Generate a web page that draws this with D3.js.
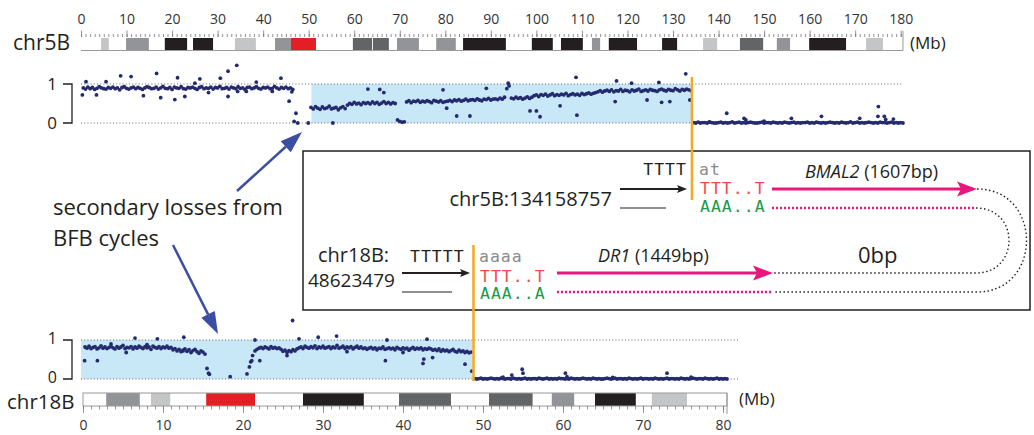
<!DOCTYPE html>
<html>
<head>
<meta charset="utf-8">
<script src="https://cdn.jsdelivr.net/npm/d3@7"></script>
<style>
  body { margin: 0; background: #fff; }
  svg { display: block; font-family: "Open Sans", sans-serif; }
</style>
</head>
<body>
<div id="chart"></div>
<script>
// ---- data (Mb positions, B-allele style values 0..1) ----

// chr5B ideogram bands: [start, end, stain]
const chr5BBands = [
  [4.4, 6.1, 'gpos25'], [9.9, 14.9, 'gpos50'], [18.4, 23.3, 'gpos100'], [24.6, 29.0, 'gpos100'],
  [33.8, 38.4, 'gpos25'], [42.6, 46.1, 'gpos50'], [46.1, 51.6, 'acen'], [59.7, 63.9, 'gpos75'],
  [64.1, 67.6, 'gpos75'], [69.4, 74.2, 'gpos50'], [78.0, 82.3, 'gpos50'], [83.9, 93.3, 'gpos100'],
  [99.0, 103.6, 'gpos100'], [105.4, 110.2, 'gpos100'], [112.2, 114.0, 'gpos50'], [115.9, 122.1, 'gpos100'],
  [127.6, 130.9, 'gpos100'], [136.6, 139.7, 'gpos25'], [144.7, 149.8, 'gpos75'], [152.8, 155.7, 'gpos50'],
  [159.9, 168.0, 'gpos100'], [172.4, 176.1, 'gpos25']
];
const chr5BLength = 180.5;
const chr5BTicks = d3.range(0, 181, 10);

// chr18B ideogram bands
const chr18BBands = [
  [2.9, 7.1, 'gpos50'], [8.5, 10.9, 'gpos25'], [15.4, 21.5, 'acen'], [27.5, 35.1, 'gpos100'],
  [39.5, 46.0, 'gpos75'], [50.75, 56.2, 'gpos75'], [58.6, 61.4, 'gpos50'], [64.0, 69.1, 'gpos100'],
  [71.1, 75.5, 'gpos25']
];
const chr18BLength = 80.5;
const chr18BTicks = d3.range(0, 81, 10);

// breakpoints
const chr5BBreak = 134.158757;
const chr18BBreak = 48.623479;
const chr5BShaded = [50.6, chr5BBreak];
const chr18BShaded = [0, chr18BBreak];

// chr5B values (x100), 0.5 Mb apart
const chr5BLeft = [ // from 0.5 Mb
  90,87,92,88,91,86,89,93,90,88, 87,91,89,92,88,90,85,91,93,89, 87,90,92,88,91,89,86,90,93,91,
  88,89,92,87,90,94,89,88,91,86, 92,90,89,93,88,87,91,90,92,89, 86,91,93,88,90,89,92,87,91,90,
  94,88,89,91,87,92,90,88,93,89, 90,86,91,92,88,90,93,89,87,91, 90,92,88,89,94,90,87,91,89,92,
  88,90,86
];
const chr5BMid = [ // from 50.5 Mb
  40,36,42,38,35,41,37,39,43,36,38,40,34,39,42,37,
  46,50,48,53,49,51,47,52,50,
  52,49,54,50,53,48,51,55,50,53,49,52,50,
  8,4,2,3,
  54,57,52,56,55,58,53,56,54,57,55,52,58,56,54,57,53,55,
  56,58,55,59,57,60,56,58,61,57,59,60,58,62,59,57,61,60,63,59,61,62,60,64,61,66,
  88,95,64,62,66,63,65,61,64,67,63,66,
  70,72,68,73,71,74,69,72,75,70,73,71,74,72,76,70,73,75,72,74,71,76,73,75,77,74,76,78,
  80,83,79,82,84,81,85,80,83,82,86,81,84,83,80,85,82,84,87,81,83,85,82,86,84,83,81,85,87,84,
  82,86,84,83,88,85,82,86,84,87,85,83
];
const chr5BRight = [ // from 134.5 Mb
  1,0,2,0,1,1,0,2,1,0, 0,1,2,0,1,0,1,3,0,1, 2,0,1,0,1,2,1,0,0,1, 2,0,1,1,0,2,1,0,1,0,
  2,1,0,1,2,0,1,0,1,1, 2,0,1,0,2,1,0,1,0,1, 2,1,0,1,0,2,1,0,1,3, 0,1,2,0,1,0,1,2,1,0,
  1,0,2,1,1,0,1,2,0,1, 0,1,0
];
const chr5BOutliers = [
  [0.3,0.72],[1.1,1.06],[3.4,0.72],[5.5,1.06],[8.7,1.21],[11,1.19],[13.7,0.7],[16.6,1.27],
  [17.5,0.65],[20.6,0.6],[21.2,1.16],[22.8,0.68],[25,1.02],[26.1,1.13],[28,0.78],[30.6,1.15],
  [32.3,1.33],[32.3,0.68],[34.2,1.48],[34.4,0.81],[36.3,0.81],[38.5,1.05],[42,0.81],[43.9,1.15],
  [45.7,0.56],[46.3,0.8],[46.8,0.04],[47.2,0.25],[47.6,0.0],[49.9,0.0],
  [55.3,0.0],[63,0.87],[65.6,0.86],[66.5,0.78],[79.5,0.85],[80.3,0.38],[82.5,0.18],[85.4,0.18],
  [89,0.89],[93.8,1.02],[98.6,0.31],[100,0.31],[100.8,0.16],[105.2,0.44],[108.9,0.2],[108.7,1.17],
  [117.3,0.55],[117.6,1.08],[120.9,1.02],[124.3,0.59],[126.9,1.04],[127.5,0.53],[129.3,0.55],
  [132.8,1.26],[133.7,0.59],
  [138,0.03],[141.8,0.25],[145.6,0.12],[146,0.08],[150,0.05],[156,0.12],[162.6,0.17],[171,0.12],
  [175.1,0.42],[175,0.17],[176.4,0.17],[176.7,0.09],[178.4,0.1]
];

// chr18B values (x100), 0.25 Mb apart
const chr18BLeft = [ // from 0.25 Mb
  82,79,84,78,81,83,77,80,85,79, 82,78,81,84,80,77,83,79,82,86, 78,81,80,83,77,82,79,84,81,78,
  83,80,82,76,84,81,79,83,78,82, 80,84,79,81,
  75,78,72,76,70,74,77,71,75,68, 73,76,70,66,72,69,64
];
const chr18BMid = [ // from 21.5 Mb
  72,76,79,81,78,82,80,77,83,79,81,78,80,76,
  71,74,68,73,70,75,72,77,
  80,82,78,84,81,79,83,80,85,78, 82,80,84,79,81,83,78,82,80,86, 79,81,84,78,82,80,83,77,81,84, 79,82,
  78,80,76,79,81,77,80,75,79,78, 82,76,78,80,77,79,75,81,78,76, 80,77,79,74,78,81,76,79,77,80, 75,78,76,79,77,74,
  76,73,77,71,75,72,74,70,73,76, 71,69,74,70,72,68,71,67,69
];
const chr18BRight = [ // from 49 Mb
  1,0,1,2,0,1,0,1,2,1, 0,1,0,2,1,0,1,1,0,2, 1,0,1,0,1,2,0,1,0,1, 1,0,2,1,0,1,2,0,1,0,
  1,0,2,1,1,0,1,0,2,1, 0,1,0,1,2,1,0,1,0,2, 1,0,1,0,0,1,2,1,0,1, 2,0,1,1,0,1,0,2,1,0,
  1,0,1,2,0,1,1,0,1,0, 2,1,0,1,0,1,2,0,1,1, 0,1,0,2,1,0,1,0,1,2, 1,0,1,1,0,2,1,0,1,0,
  1,2,0,1,0,1,0
];
const chr18BOutliers = [
  [0.2,0.47],[1.8,0.47],[3.5,0.9],[5.4,0.68],[6.5,1.05],[8,0.88],[9.3,1.03],[12.5,0.72],[12.6,1.07],
  [15.5,0.27],[15.7,0.15],[15.8,0.12],[18.4,0.06],[20.5,0.13],[20.8,0.31],[20.96,0.44],[21.1,0.47],
  [21.2,0.6],[21.5,1.0],[22.1,0.47],
  [25.5,0.6],[26.2,1.5],[27,1.03],[29.4,1.07],[31.7,1.1],[33,0.7],[37.8,0.47],[38,1.0],[40,0.68],
  [42.5,0.4],[42.6,0.51],[43,1.02],[43.7,0.55],[47.75,0.38],[48.6,0.2],
  [52.5,0.05],[53.6,0.1],[54.9,0.25],[55.0,0.15],[60.3,0.15],[60.5,0.06],[66.2,0.04],[73,0.15],[76,0.05]
];

// ---- styles ----
const stainColor = {
  gpos25: '#c4c5c7', gpos50: '#929497', gpos75: '#636466', gpos100: '#231f20', acen: '#e31e25'
};
const dotColor = '#232a6e';
const shadeColor = '#c8e8f8';
const orange = '#f6a823';
const magenta = '#e8177d';
const blueArrow = '#3c4ea2';
const mono = '"DejaVu Sans Mono", monospace';

const W = 1034, H = 435;
const svg = d3.select('#chart').append('svg').attr('width', W).attr('height', H);

// scales
const x5 = d3.scaleLinear().domain([0, 180]).range([81, 900.7]);
const y5 = d3.scaleLinear().domain([0, 1]).range([123, 84]);
const x18 = d3.scaleLinear().domain([0, 80]).range([83, 723]);
const y18 = d3.scaleLinear().domain([0, 1]).range([379, 340]);

function band(start, step, vals) {
  return vals.map((v, i) => [start + i * step, v / 100]);
}

// ---- chr5B ideogram ----
const ideo5 = svg.append('g');
ideo5.selectAll('rect').data(chr5BBands).enter().append('rect')
  .attr('x', d => x5(d[0])).attr('width', d => x5(d[1]) - x5(d[0]))
  .attr('y', 38).attr('height', 12)
  .attr('fill', d => stainColor[d[2]]);
ideo5.append('line').attr('x1', x5(0)).attr('x2', x5(chr5BLength)).attr('y1', 50.5).attr('y2', 50.5)
  .attr('stroke', '#999').attr('stroke-width', 1);
ideo5.append('line').attr('x1', x5(chr5BLength)).attr('x2', x5(chr5BLength)).attr('y1', 31).attr('y2', 50.5)
  .attr('stroke', '#999').attr('stroke-width', 1);

const minor5 = ideo5.append('g').attr('transform', 'translate(0,37)').attr('color', '#777')
  .call(d3.axisTop(x5).tickValues(d3.range(0, 181, 1)).tickSize(3).tickFormat(''));
const major5 = ideo5.append('g').attr('transform', 'translate(0,37)').attr('color', '#777')
  .call(d3.axisTop(x5).tickValues(chr5BTicks).tickSize(6.5).tickPadding(7));
[minor5, major5].forEach(a => { a.select('.domain').remove(); a.selectAll('line').attr('stroke-width', 0.8); });
major5.selectAll('text').attr('font-size', 14).attr('fill', '#333').attr('font-family', '"Open Sans", sans-serif');

svg.append('text').attr('x', 13).attr('y', 50).attr('font-size', 21).attr('fill', '#231f20').text('chr5B');
svg.append('text').attr('x', 910).attr('y', 49).attr('font-size', 17).attr('fill', '#231f20').text('(Mb)');

// ---- chr5B scatter ----
const p5 = svg.append('g');
p5.append('rect').attr('x', x5(chr5BShaded[0])).attr('width', x5(chr5BShaded[1]) - x5(chr5BShaded[0]))
  .attr('y', y5(1)).attr('height', y5(0) - y5(1)).attr('fill', shadeColor);
[0, 1].forEach(v => p5.append('line')
  .attr('x1', x5(0)).attr('x2', x5(chr5BLength)).attr('y1', y5(v)).attr('y2', y5(v))
  .attr('stroke', '#666').attr('stroke-width', 1.1).attr('stroke-dasharray', '1,2.2'));
const pts5 = [].concat(band(0.5, 0.5, chr5BLeft), band(50.5, 0.5, chr5BMid), band(134.5, 0.5, chr5BRight), chr5BOutliers);
p5.selectAll('circle').data(pts5).enter().append('circle')
  .attr('cx', d => x5(d[0])).attr('cy', d => y5(d[1])).attr('r', 1.9).attr('fill', dotColor);

// y bracket
function bracket(yScale, x, fs, dy) {
  svg.append('path').attr('d', `M${x - 9},${yScale(1)}H${x}V${yScale(0)}H${x - 9}`)
    .attr('fill', 'none').attr('stroke', '#231f20').attr('stroke-width', 1.3);
  [1, 0].forEach(v => svg.append('text').attr('x', x - 15).attr('y', yScale(v) + dy)
    .attr('text-anchor', 'end').attr('font-size', fs).attr('fill', '#231f20').text(v));
}
bracket(y5, 72, 17, 6);

// ---- chr18B scatter ----
const p18 = svg.append('g');
p18.append('rect').attr('x', 81).attr('width', x18(chr18BShaded[1]) - 81)
  .attr('y', y18(1)).attr('height', y18(0) - y18(1)).attr('fill', shadeColor);
[0, 1].forEach(v => p18.append('line')
  .attr('x1', 81).attr('x2', 738).attr('y1', y18(v)).attr('y2', y18(v))
  .attr('stroke', '#666').attr('stroke-width', 1.1).attr('stroke-dasharray', '1,2.2'));
const pts18 = [].concat(band(0.25, 0.25, chr18BLeft), band(21.5, 0.25, chr18BMid), band(49, 0.25, chr18BRight), chr18BOutliers);
p18.selectAll('circle').data(pts18).enter().append('circle')
  .attr('cx', d => x18(d[0])).attr('cy', d => y18(d[1])).attr('r', 1.9).attr('fill', dotColor);
bracket(y18, 72, 16, 3.5);

// ---- chr18B ideogram ----
const ideo18 = svg.append('g');
ideo18.selectAll('rect').data(chr18BBands).enter().append('rect')
  .attr('x', d => x18(d[0])).attr('width', d => x18(d[1]) - x18(d[0]))
  .attr('y', 393).attr('height', 13)
  .attr('fill', d => stainColor[d[2]]);
ideo18.append('rect').attr('x', x18(0)).attr('width', x18(chr18BLength) - x18(0))
  .attr('y', 393).attr('height', 13).attr('fill', 'none').attr('stroke', '#999').attr('stroke-width', 1);
const minor18 = ideo18.append('g').attr('transform', 'translate(0,406)').attr('color', '#777')
  .call(d3.axisBottom(x18).tickValues(d3.range(0, 81, 1)).tickSize(3.5).tickFormat(''));
const major18 = ideo18.append('g').attr('transform', 'translate(0,406)').attr('color', '#777')
  .call(d3.axisBottom(x18).tickValues(chr18BTicks).tickSize(7).tickPadding(7));
[minor18, major18].forEach(a => { a.select('.domain').remove(); a.selectAll('line').attr('stroke-width', 0.8); });
major18.selectAll('text').attr('font-size', 14).attr('fill', '#333').attr('font-family', '"Open Sans", sans-serif');
ideo18.append('line').attr('x1', x18(chr18BLength)).attr('x2', x18(chr18BLength)).attr('y1', 393).attr('y2', 414)
  .attr('stroke', '#999').attr('stroke-width', 1);

svg.append('text').attr('x', 7).attr('y', 409).attr('font-size', 20.5).attr('fill', '#231f20').text('chr18B');
svg.append('text').attr('x', 739).attr('y', 405).attr('font-size', 17).attr('fill', '#231f20').text('(Mb)');

// ---- junction box ----
const box = svg.append('g');
box.append('rect').attr('x', 303).attr('y', 151).attr('width', 727).attr('height', 159)
  .attr('fill', 'none').attr('stroke', '#231f20').attr('stroke-width', 1.5);

function arrowHead(g, x, y, len, wid, color) {
  g.append('path')
    .attr('d', `M${x},${y}L${x - len},${y - wid / 2}L${x - len * 0.8},${y}L${x - len},${y + wid / 2}Z`)
    .attr('fill', color);
}
function hline(g, x1, x2, y, color, w, dash) {
  const l = g.append('line').attr('x1', x1).attr('x2', x2).attr('y1', y).attr('y2', y)
    .attr('stroke', color).attr('stroke-width', w);
  if (dash) l.attr('stroke-dasharray', dash);
  return l;
}
function seq(g, x, y, str, color, anchor) {
  return g.append('text').attr('x', x).attr('y', y).attr('font-family', mono)
    .attr('font-size', 16.5).attr('letter-spacing', 1).attr('fill', color)
    .attr('text-anchor', anchor || 'start').text(str);
}

// orange breakpoint lines
svg.append('line').attr('x1', x5(chr5BBreak)).attr('x2', x5(chr5BBreak)).attr('y1', 77).attr('y2', 200)
  .attr('stroke', orange).attr('stroke-width', 2.5);
svg.append('line').attr('x1', x18(chr18BBreak) + 1.5).attr('x2', x18(chr18BBreak) + 1.5).attr('y1', 245).attr('y2', 381)
  .attr('stroke', orange).attr('stroke-width', 2.5);

// chr5B side
box.append('text').attr('x', 612).attr('y', 206).attr('text-anchor', 'end').attr('font-size', 20)
  .attr('fill', '#231f20').text('chr5B:134158757');
seq(box, 687, 175, 'TTTT', '#231f20', 'end');
seq(box, 699, 175, 'at', '#8a8a8a');
hline(box, 620, 680, 189, '#231f20', 1.8);
arrowHead(box, 687, 189, 10, 8, '#231f20');
hline(box, 620, 666, 208, '#231f20', 1.2);
seq(box, 700, 194, 'TTT..T', '#ef4a50');
seq(box, 700, 212, 'AAA..A', '#1a9a4a');
hline(box, 772, 962, 189, magenta, 3);
arrowHead(box, 977, 189, 20, 15, magenta);
hline(box, 772, 976, 208, magenta, 2.5, '2,2');
const t5 = box.append('text').attr('x', 805).attr('y', 178).attr('font-size', 18).attr('fill', '#231f20');
t5.append('tspan').attr('font-style', 'italic').text('BMAL2');
t5.append('tspan').text(' (1607bp)');

// chr18B side
box.append('text').attr('x', 318).attr('y', 262).attr('font-size', 20).attr('fill', '#231f20').text('chr18B:');
box.append('text').attr('x', 308).attr('y', 287).attr('font-size', 19).attr('fill', '#231f20').text('48623479');
seq(box, 410, 262, 'TTTTT', '#231f20');
seq(box, 479, 262, 'aaaa', '#8a8a8a');
hline(box, 402, 462, 273, '#231f20', 1.8);
arrowHead(box, 470, 273, 10, 8, '#231f20');
hline(box, 402, 452, 292, '#231f20', 1.2);
seq(box, 480, 282, 'TTT..T', '#ef4a50');
seq(box, 480, 299, 'AAA..A', '#1a9a4a');
hline(box, 557, 758, 273, magenta, 3);
arrowHead(box, 773, 273, 20, 15, magenta);
hline(box, 557, 773, 292, magenta, 2.5, '2,2');
const t18 = box.append('text').attr('x', 598).attr('y', 262).attr('font-size', 18).attr('fill', '#231f20');
t18.append('tspan').attr('font-style', 'italic').text('DR1');
t18.append('tspan').text(' (1449bp)');
box.append('text').attr('x', 858).attr('y', 263).attr('font-size', 22).attr('fill', '#231f20').text('0bp');

// dotted joins
box.append('path').attr('d', 'M977,189C1043,189 1043,292 977,292L774,292')
  .attr('fill', 'none').attr('stroke', '#231f20').attr('stroke-width', 1.4).attr('stroke-dasharray', '1.5,2.5');
box.append('path').attr('d', 'M976,208C1020,208 1020,273 976,273L774,273')
  .attr('fill', 'none').attr('stroke', '#231f20').attr('stroke-width', 1.4).attr('stroke-dasharray', '1.5,2.5');

// ---- annotation ----
svg.append('text').attr('x', 53).attr('y', 215).attr('font-size', 22).attr('fill', '#231f20').text('secondary losses from');
svg.append('text').attr('x', 53).attr('y', 246).attr('font-size', 22).attr('fill', '#231f20').text('BFB cycles');

function slantArrow(x1, y1, x2, y2) {
  const a = Math.atan2(y2 - y1, x2 - x1), len = 22, wid = 15;
  const bx = x2 - len * Math.cos(a), by = y2 - len * Math.sin(a);
  const nx = -Math.sin(a) * wid / 2, ny = Math.cos(a) * wid / 2;
  svg.append('line').attr('x1', x1).attr('y1', y1).attr('x2', bx).attr('y2', by)
    .attr('stroke', blueArrow).attr('stroke-width', 2.5);
  svg.append('path').attr('d', `M${x2},${y2}L${bx + nx},${by + ny}L${bx},${by}L${bx - nx},${by - ny}Z`)
    .attr('fill', blueArrow);
}
slantArrow(237, 191, 302, 132);
slantArrow(173, 245, 218, 334);
</script>
</body>
</html>
